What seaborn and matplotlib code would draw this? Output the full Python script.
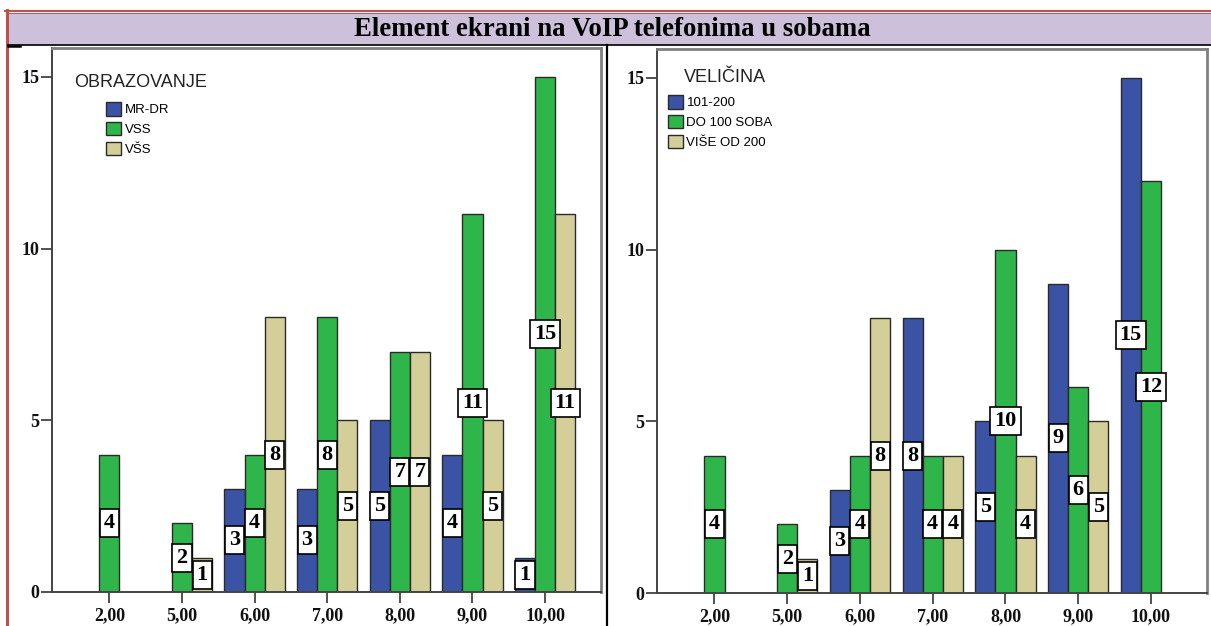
import matplotlib
matplotlib.use('Agg')
import matplotlib.pyplot as plt
import seaborn as sns
import pandas as pd
from matplotlib.lines import Line2D
from matplotlib.patches import Rectangle, Patch

# ---------------- data ----------------
categories = ['2,00', '5,00', '6,00', '7,00', '8,00', '9,00', '10,00']

edu_levels = ['MR-DR', 'VSS', 'VŠS']
edu_mr_dr = [0, 0, 3, 3, 5, 4, 1]
edu_vss = [4, 2, 4, 8, 7, 11, 15]
edu_vss_hi = [0, 1, 8, 5, 7, 5, 11]

size_levels = ['101-200', 'DO 100 SOBA', 'VIŠE OD 200']
size_101_200 = [0, 0, 3, 8, 5, 9, 15]
size_do_100 = [4, 2, 4, 4, 10, 6, 12]
size_vise_200 = [0, 1, 8, 4, 4, 5, 0]

title = 'Element ekrani na VoIP telefonima u sobama'
legend_titles = ['OBRAZOVANJE', 'VELIČINA']
y_ticks = [0, 5, 10, 15]
colors = ['#3b53a4', '#2fb64a', '#d4cf99']


def long_df(levels, series):
    rows = []
    for lvl, vals in zip(levels, series):
        for c, v in zip(categories, vals):
            if v > 0:
                rows.append({'cat': c, 'grp': lvl, 'val': v})
    return pd.DataFrame(rows)


df_edu = long_df(edu_levels, [edu_mr_dr, edu_vss, edu_vss_hi])
df_size = long_df(size_levels, [size_101_200, size_do_100, size_vise_200])

# ---------------- figure ----------------
W, H = 1211, 626
fig = plt.figure(figsize=(W / 100, H / 100), dpi=100)
fig.patch.set_facecolor('white')


def fx(px):
    return px / W


def fy(py):
    return 1 - py / H


# title band and frame lines
fig.patches.append(Rectangle((fx(8), fy(44.5)), fx(1211) - fx(8), (44.5 - 13.7) / H,
                             transform=fig.transFigure, facecolor='#ccc0da',
                             edgecolor='none', zorder=0))
fig.add_artist(Line2D([fx(5), fx(1211)], [fy(11), fy(11)], transform=fig.transFigure,
                      color='#c0504d', lw=1.5))
fig.add_artist(Line2D([fx(8), fx(1211)], [fy(13.4), fy(13.4)], transform=fig.transFigure,
                      color='#c0504d', lw=0.7))
fig.add_artist(Line2D([fx(7), fx(7)], [fy(10), fy(626)], transform=fig.transFigure,
                      color='#c0504d', lw=2.2))
fig.add_artist(Line2D([fx(8), fx(1211)], [fy(44.8), fy(44.8)], transform=fig.transFigure,
                      color='black', lw=1.2))
fig.add_artist(Line2D([fx(8), fx(20)], [fy(46), fy(46)], transform=fig.transFigure,
                      color='black', lw=1.8))
fig.add_artist(Line2D([fx(606.7), fx(606.7)], [fy(44.5), fy(626)], transform=fig.transFigure,
                      color='black', lw=1.6))

fig.text(fx(612), fy(29), title, ha='center', va='center', fontsize=19.3,
         fontweight='bold', family='Liberation Serif', color='black')

ax1 = fig.add_axes([fx(52), fy(592), (601 - 52) / W, 544 / H])
ax2 = fig.add_axes([fx(657), fy(593), (1207 - 657) / W, 544 / H])

panels = [
    (ax1, df_edu, edu_levels, legend_titles[0], (74, 82.7), (106, 102)),
    (ax2, df_size, size_levels, legend_titles[1], (684, 77), (668, 95)),
]

for ax, df, levels, ltitle, tpos, lpos in panels:
    sns.barplot(data=df, x='cat', y='val', hue='grp', order=categories,
                hue_order=levels, palette=colors, saturation=1, width=0.83,
                edgecolor='#2a2a2a', linewidth=1, ax=ax, legend=False, errorbar=None)
    ax.set_facecolor('white')
    ax.set_xlim(-0.79, 6.77)
    ax.set_ylim(0, 15.84)
    ax.set_yticks(y_ticks)
    ax.set_yticklabels([str(t) for t in y_ticks])
    ax.set_xlabel('')
    ax.set_ylabel('')
    ax.grid(False)

    for side in ['left', 'bottom']:
        ax.spines[side].set_color('#444444')
        ax.spines[side].set_linewidth(1.4)
    for side in ['top', 'right']:
        ax.spines[side].set_color('#808080')
        ax.spines[side].set_linewidth(2.0)

    ax.tick_params(axis='both', direction='out', length=8, width=1.2, color='#333333')
    ax.tick_params(axis='y', pad=1)
    ax.tick_params(axis='x', pad=3)
    for lbl in ax.get_xticklabels() + ax.get_yticklabels():
        lbl.set_family('Liberation Serif')
        lbl.set_fontweight('bold')
        lbl.set_fontsize(13)
        lbl.set_color('#111111')

    # value labels from the drawn bars
    for cont in ax.containers:
        for bar in cont:
            h = bar.get_height()
            if h is None or not h > 0:
                continue
            xc = bar.get_x() + bar.get_width() / 2
            ax.text(xc, h / 2, f'{int(round(h))}', ha='center', va='center',
                    fontsize=16, fontweight='bold', family='Liberation Serif',
                    bbox=dict(boxstyle='square,pad=0.18', fc='white', ec='black', lw=1.2),
                    zorder=5)

    # legend
    handles = [Patch(facecolor=c, edgecolor='#2a2a2a', lw=1, label=l)
               for c, l in zip(colors, levels)]
    ax.legend(handles=handles, loc='upper left', bbox_to_anchor=(fx(lpos[0]), fy(lpos[1])),
              bbox_transform=fig.transFigure, frameon=False, borderpad=0,
              borderaxespad=0, handlelength=1.1, handleheight=1.2,
              handletextpad=0.3, labelspacing=0.42,
              prop={'family': 'Liberation Sans', 'size': 9.5})
    fig.text(fx(tpos[0]), fy(tpos[1]), ltitle, ha='left', va='center', fontsize=13,
             family='Liberation Sans', color='#222222')

fig.savefig('out.png', dpi=100)
